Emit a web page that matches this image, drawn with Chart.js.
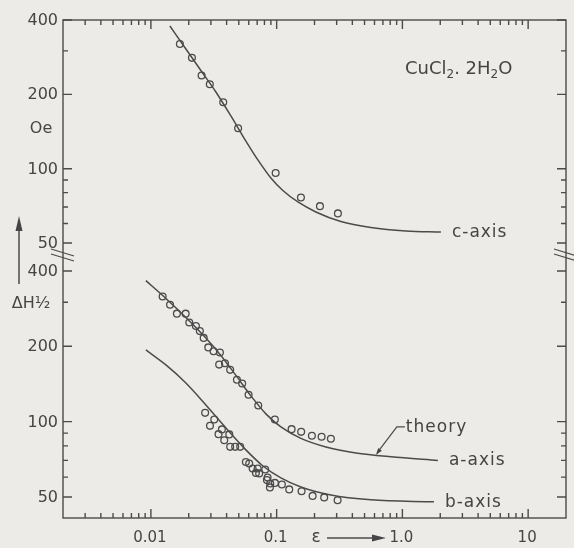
<!DOCTYPE html>
<html>
  <head>
    <meta charset="utf-8">
    <title>CuCl2.2H2O line width</title>
    <style>
      html, body { margin: 0; padding: 0; background: #ecebe8; }
    </style>
  </head>
  <body>
    <canvas id="myChart" width="574" height="548"></canvas>
  </body>
  <script src="https://cdn.jsdelivr.net/npm/chart.js@4.4.1/dist/chart.umd.min.js"></script>
  <script type="text/javascript">

  // measured line width (Oe) against epsilon, one list per crystal axis
  const cAxisPoints = [[0.0170, 320], [0.0212, 281], [0.0253, 238.5], [0.0294, 219.6], [0.0376, 185.8],
    [0.0494, 145.8], [0.0982, 96.0], [0.156, 76.4], [0.221, 70.5], [0.307, 65.9]];
  const aAxisPoints = [[0.0124, 316], [0.0142, 293], [0.0161, 270], [0.0189, 270], [0.0202, 249],
    [0.0228, 241], [0.0245, 230], [0.0263, 216], [0.0286, 198], [0.0315, 191], [0.0354, 189],
    [0.0349, 169], [0.0388, 171], [0.0427, 161], [0.0483, 147], [0.0532, 142], [0.0598, 128],
    [0.0714, 116], [0.0968, 102], [0.1315, 93.3], [0.1567, 91.0], [0.1907, 87.8], [0.2277, 87.0],
    [0.2700, 85.4]];
  const bAxisPoints = [[0.0270, 108.4], [0.0319, 102.0], [0.0295, 96.2], [0.0367, 93.1], [0.0345, 89.1],
    [0.0420, 88.9], [0.0383, 84.3], [0.0427, 79.3], [0.0468, 79.3], [0.0513, 79.3], [0.0569, 69.0],
    [0.0605, 68.0], [0.0644, 65.0], [0.0706, 65.0], [0.0684, 62.4], [0.0726, 62.1], [0.0811, 64.4],
    [0.0847, 59.8], [0.0837, 58.4], [0.0889, 56.6], [0.0884, 54.6], [0.0969, 56.9], [0.1101, 56.1],
    [0.1259, 53.6], [0.1579, 52.7], [0.1932, 50.5], [0.2388, 49.8], [0.3053, 48.5]];

  // theoretical curves
  const cAxisTheory = [[0.01416, 378.3], [0.01898, 305.3], [0.02498, 249.7], [0.03288, 204.4],
    [0.04327, 163.5], [0.05693, 129.4], [0.07227, 107.0], [0.0900, 91.7], [0.1121, 81.6],
    [0.1476, 73.3], [0.2051, 66.8], [0.3243, 61.1], [0.5616, 57.8], [1.066, 55.95], [2.024, 55.4]];
  const aAxisTheory = [[0.00912, 365.9], [0.01316, 310.6], [0.01898, 260.8], [0.02737, 215.9],
    [0.03603, 183.9], [0.04743, 153.0], [0.06242, 126.7], [0.08215, 107.4], [0.1081, 95.2],
    [0.1559, 85.7], [0.2464, 79.2], [0.4268, 75.0], [0.8098, 72.4], [1.916, 70.0]];
  const bAxisTheory = [[0.00912, 193.4], [0.01316, 168.5], [0.01898, 142.7], [0.02737, 116.6],
    [0.03948, 94.4], [0.05693, 77.1], [0.07777, 66.5], [0.1081, 59.6], [0.1559, 54.8],
    [0.2700, 50.9], [0.5616, 48.7], [1.781, 47.8]];

  const xTickValues = [0.01, 0.1, 1, 10];
  const xTickLabels = ['0.01', '0.1', '1.0', '10'];
  const yTickValues = [400, 200, 100, 50];
  const yTickLabels = ['400', '200', '100', '50'];
  const yMinorValues = [300, 90, 80, 70, 60];
  const theoryPointer = [0.615, 73.6];

  const ink = '#4b4b4b';
  const paper = '#ecebe8';
  const face = '"DejaVu Sans", sans-serif';

  const toXY = (arr) => arr.map(p => ({x: p[0], y: p[1]}));

  function pointSet(data, axis) {
    return {
      data: toXY(data), yAxisID: axis, showLine: false,
      pointStyle: 'circle', pointRadius: 3.4, pointBorderWidth: 1.3,
      pointBackgroundColor: 'rgba(0,0,0,0)', pointBorderColor: ink
    };
  }

  function curveSet(data, axis, name) {
    return {
      label: name, data: toXY(data), yAxisID: axis, showLine: true,
      pointRadius: 0, borderColor: ink, borderWidth: 1.5,
      cubicInterpolationMode: 'monotone'
    };
  }

  function arrowHead(ctx, x, y, angle, len, half) {
    const c = Math.cos(angle), s = Math.sin(angle);
    ctx.beginPath();
    ctx.moveTo(x, y);
    ctx.lineTo(x - len * c + half * s, y - len * s - half * c);
    ctx.lineTo(x - len * c - half * s, y - len * s + half * c);
    ctx.closePath();
    ctx.fill();
  }

  // frame with inward ticks, broken y axis and all the lettering
  const frame = {
    id: 'frame',
    beforeDraw(chart) {
      const ctx = chart.ctx;
      ctx.save();
      ctx.fillStyle = paper;
      ctx.fillRect(0, 0, chart.width, chart.height);
      ctx.restore();
    },
    afterDraw(chart) {
      const {ctx, scales} = chart;
      const xs = scales.x, hi = scales.yHigh, lo = scales.yLow;
      const left = xs.left, right = xs.right, top = hi.top, bottom = lo.bottom;
      ctx.save();
      ctx.strokeStyle = ink;
      ctx.fillStyle = '#454545';
      ctx.lineWidth = 1.4;
      ctx.strokeRect(left, top, right - left, bottom - top);

      // x ticks, top and bottom
      ctx.beginPath();
      [0.001, 0.01, 0.1, 1, 10].forEach(d => {
        for (let m = 1; m <= 9; m++) {
          const v = m * d;
          if (v <= xs.min * 1.001 || v >= xs.max * 0.999) continue;
          const px = xs.getPixelForValue(v);
          const len = m === 1 ? 9 : 5;
          ctx.moveTo(px, bottom); ctx.lineTo(px, bottom - len);
          ctx.moveTo(px, top); ctx.lineTo(px, top + len);
        }
      });
      // y ticks, left and right, for both panels
      [hi, lo].forEach(s => {
        yTickValues.concat(yMinorValues).forEach(v => {
          if (v < s.min || v > s.max) return;
          const py = s.getPixelForValue(v);
          const len = yTickValues.includes(v) ? 9 : 5;
          ctx.moveTo(left, py); ctx.lineTo(left + len, py);
          ctx.moveTo(right, py); ctx.lineTo(right - len, py);
        });
      });
      ctx.stroke();

      // break marks between the panels
      const yb = hi.bottom;
      ctx.lineWidth = 1.1;
      ctx.beginPath();
      [left, right].forEach(x0 => {
        [-3, 2].forEach(k => {
          ctx.moveTo(x0 - 12, yb + k - 4);
          ctx.lineTo(x0 + 11, yb + k + 3);
        });
      });
      ctx.stroke();

      // tick labels
      ctx.font = '16px ' + face;
      ctx.textAlign = 'right';
      ctx.textBaseline = 'middle';
      [hi, lo].forEach(s => {
        yTickValues.forEach((v, i) => {
          if (v < s.min || v > s.max) return;
          ctx.fillText(yTickLabels[i], left - 5, s.getPixelForValue(v) + 1);
        });
      });
      ctx.font = '15px ' + face;
      ctx.textAlign = 'center';
      xTickValues.forEach((v, i) => {
        ctx.fillText(xTickLabels[i], xs.getPixelForValue(v) - 1, bottom + 20);
      });

      // axis names
      ctx.font = '16px ' + face;
      ctx.fillText('Oe', 41, 129);
      ctx.fillText('ΔH½', 31, 304);
      ctx.lineWidth = 1.5;
      ctx.beginPath();
      ctx.moveTo(19, 284); ctx.lineTo(19, 226);
      ctx.stroke();
      arrowHead(ctx, 19, 216, -Math.PI / 2, 15, 3.5);

      ctx.font = '17px ' + face;
      ctx.fillText('ε', 316, bottom + 20);
      ctx.beginPath();
      ctx.moveTo(327, bottom + 20); ctx.lineTo(375, bottom + 20);
      ctx.stroke();
      arrowHead(ctx, 386, bottom + 20, 0, 14, 3.5);

      // compound
      ctx.textAlign = 'left';
      ctx.textBaseline = 'alphabetic';
      let tx = 405;
      const put = (str, size, dy) => {
        ctx.font = size + 'px ' + face;
        ctx.fillText(str, tx, 74 + dy);
        tx += ctx.measureText(str).width;
      };
      put('CuCl', 18, 0); put('2', 12, 4); put('. 2H', 18, 0); put('2', 12, 4); put('O', 18, 0);

      // curve names at the end of each theory line
      ctx.font = '17px ' + face;
      ctx.letterSpacing = '1px';
      [[cAxisTheory, hi, 'c-axis'], [aAxisTheory, lo, 'a-axis'], [bAxisTheory, lo, 'b-axis']].forEach(([arr, s, name]) => {
        const end = arr[arr.length - 1];
        const px = xs.getPixelForValue(end[0]);
        const py = s.getPixelForValue(end[1]);
        ctx.fillText(name, px + 11, py + 5);
      });

      // pointer to the a-axis theory line
      const ax = xs.getPixelForValue(theoryPointer[0]);
      const ay = lo.getPixelForValue(theoryPointer[1]);
      ctx.lineWidth = 1.2;
      ctx.beginPath();
      ctx.moveTo(ax + 2, ay - 3);
      ctx.lineTo(ax + 21, ay - 28);
      ctx.lineTo(ax + 29, ay - 28);
      ctx.stroke();
      arrowHead(ctx, ax, ay, Math.atan2(28, -21), 7, 2.2);
      ctx.fillText('theory', ax + 30, ay - 23);
      ctx.restore();
    }
  };

  const ctx = document.getElementById('myChart').getContext('2d');
  const chart = new Chart(ctx, {
    type: 'scatter',
    data: {
      datasets: [
        curveSet(cAxisTheory, 'yHigh', 'c-axis'),
        curveSet(aAxisTheory, 'yLow', 'a-axis'),
        curveSet(bAxisTheory, 'yLow', 'b-axis'),
        pointSet(cAxisPoints, 'yHigh'),
        pointSet(aAxisPoints, 'yLow'),
        pointSet(bAxisPoints, 'yLow')
      ]
    },
    options: {
      responsive: false,
      animation: false,
      events: [],
      layout: { padding: { left: 63, right: 8, top: 20, bottom: 30 } },
      plugins: { legend: { display: false }, tooltip: { enabled: false } },
      scales: {
        x: { type: 'logarithmic', min: 0.002, max: 20, bounds: 'data', display: false },
        yLow: { type: 'logarithmic', position: 'left', stack: 'dh', stackWeight: 262,
          min: 41.2, max: 459, bounds: 'data', display: false },
        yHigh: { type: 'logarithmic', position: 'left', stack: 'dh', stackWeight: 236,
          min: 44.3, max: 400, bounds: 'data', display: false }
      }
    },
    plugins: [frame]
  });
  </script>
</html>
